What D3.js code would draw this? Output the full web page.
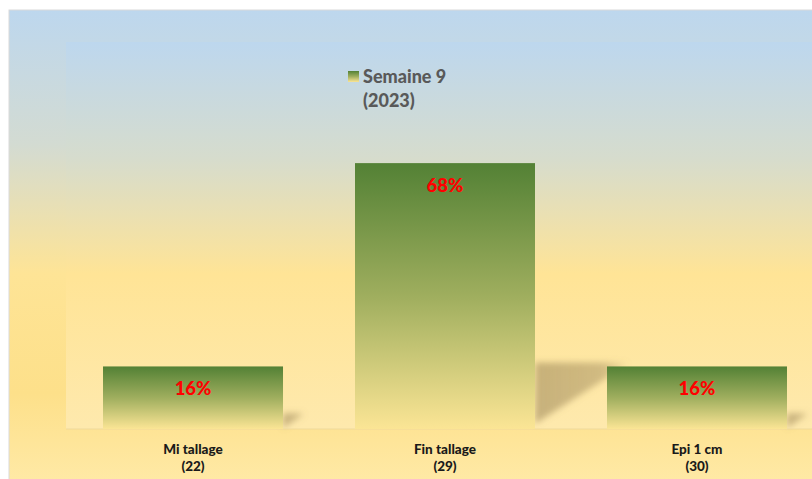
<!DOCTYPE html>
<html>
<head>
<meta charset="utf-8">
<script src="https://cdn.jsdelivr.net/npm/d3@7"></script>
<style>
  body { margin: 0; background: #fff; }
  text { font-family: Lato, "Open Sans", sans-serif; font-weight: 900; }
</style>
</head>
<body>
<div id="chart"></div>
<script>
// data
var categories = ["Mi tallage", "Fin tallage", "Epi 1 cm"];
var stageCodes = ["(22)", "(29)", "(30)"];
var values = [16, 68, 16];
var seriesName = ["Semaine 9", "(2023)"];

var svgWidth = 812, svgHeight = 479;

var svg = d3.select("#chart")
    .append("svg")
    .attr("width", svgWidth)
    .attr("height", svgHeight);

var defs = svg.append("defs");

// outer background gradient
var bgGrad = defs.append("linearGradient").attr("id", "bgGrad")
    .attr("x1", 0).attr("y1", 0).attr("x2", 0).attr("y2", 1);
[[0, "#bdd7ee"], [0.28, "#d3dbd2"], [0.55, "#fee496"], [0.8, "#fde08a"], [1, "#ffeaa8"]]
    .forEach(s => bgGrad.append("stop").attr("offset", s[0]).attr("stop-color", s[1]));

// plot area gradient
var plotGrad = defs.append("linearGradient").attr("id", "plotGrad")
    .attr("x1", 0).attr("y1", 0).attr("x2", 0).attr("y2", 1);
[[0, "#bdd7ee"], [0.3, "#d6dccd"], [0.6, "#ffe496"], [1, "#fee9ad"]]
    .forEach(s => plotGrad.append("stop").attr("offset", s[0]).attr("stop-color", s[1]));

// bar gradient
var barGrad = defs.append("linearGradient").attr("id", "barGrad")
    .attr("x1", 0).attr("y1", 0).attr("x2", 0).attr("y2", 1);
[[0, "#538135"], [0.5, "#9fae5e"], [1, "#fbe595"]]
    .forEach(s => barGrad.append("stop").attr("offset", s[0]).attr("stop-color", s[1]));

// shadow blur
defs.append("filter").attr("id", "blur")
    .attr("x", "-50%").attr("y", "-50%").attr("width", "200%").attr("height", "200%")
    .append("feGaussianBlur").attr("stdDeviation", 3);

var shadowGrad = defs.append("linearGradient").attr("id", "shadowGrad")
    .attr("x1", 0).attr("y1", 0).attr("x2", 1).attr("y2", 0);
shadowGrad.append("stop").attr("offset", 0).attr("stop-color", "#9a8455").attr("stop-opacity", 0.55);
shadowGrad.append("stop").attr("offset", 0.7).attr("stop-color", "#9a8455").attr("stop-opacity", 0.45);
shadowGrad.append("stop").attr("offset", 1).attr("stop-color", "#9a8455").attr("stop-opacity", 0);

// chart area
svg.append("rect")
    .attr("x", 9).attr("y", 10)
    .attr("width", svgWidth).attr("height", svgHeight)
    .attr("fill", "url(#bgGrad)")
    .attr("stroke", "#d9d9d9");

var plot = { left: 66, top: 42, right: 830, bottom: 429 };

svg.append("rect")
    .attr("x", plot.left).attr("y", plot.top)
    .attr("width", plot.right - plot.left).attr("height", plot.bottom - plot.top)
    .attr("fill", "url(#plotGrad)");

// scales
var x = d3.scaleBand()
    .domain(categories)
    .range([67, 823])
    .paddingInner(0.2857)
    .paddingOuter(0.1429);

var y = d3.scaleLinear()
    .domain([0, 100])
    .range([plot.bottom, 38]);

var rows = categories.map((c, i) => ({ cat: c, code: stageCodes[i], v: values[i] }));

// perspective shadows
svg.append("g").selectAll("polygon")
    .data(rows)
    .enter()
    .append("polygon")
    .attr("points", d => {
        var x1 = x(d.cat) + x.bandwidth();
        var h = plot.bottom - y(d.v);
        var top = plot.bottom - 0.25 * h;
        return [[x1, top], [x1 + 0.36 * h, top], [x1, plot.bottom - 0.02 * h]]
            .map(p => p.join(",")).join(" ");
    })
    .attr("fill", "url(#shadowGrad)")
    .attr("filter", "url(#blur)");

// axis line
svg.append("line")
    .attr("x1", plot.left).attr("x2", plot.right)
    .attr("y1", plot.bottom).attr("y2", plot.bottom)
    .attr("stroke", "#efd89a");

// bars
svg.append("g").selectAll("rect")
    .data(rows)
    .enter()
    .append("rect")
    .attr("x", d => x(d.cat))
    .attr("y", d => y(d.v))
    .attr("width", x.bandwidth())
    .attr("height", d => plot.bottom - y(d.v))
    .attr("fill", "url(#barGrad)");

// value labels
svg.append("g").selectAll("text")
    .data(rows)
    .enter()
    .append("text")
    .attr("x", d => x(d.cat) + x.bandwidth() / 2)
    .attr("y", d => y(d.v) + 29)
    .attr("text-anchor", "middle")
    .attr("fill", "#ff0000")
    .style("font-size", "18.5px")
    .text(d => d.v + "%");

// category labels
var catLabels = svg.append("g").selectAll("text")
    .data(rows)
    .enter()
    .append("text")
    .attr("x", d => x(d.cat) + x.bandwidth() / 2)
    .attr("y", 454)
    .attr("text-anchor", "middle")
    .attr("fill", "#1a1a1a")
    .style("font-size", "13.5px");
catLabels.append("tspan").text(d => d.cat);
catLabels.append("tspan")
    .attr("x", d => x(d.cat) + x.bandwidth() / 2)
    .attr("dy", 17)
    .text(d => d.code);

// legend
svg.append("rect")
    .attr("x", 348).attr("y", 71)
    .attr("width", 11).attr("height", 11)
    .attr("fill", "url(#barGrad)");

svg.append("text")
    .attr("x", 363).attr("y", 83)
    .attr("fill", "#595959")
    .style("font-size", "18px")
    .text(seriesName[0]);

svg.append("text")
    .attr("x", 363).attr("y", 107)
    .attr("fill", "#595959")
    .style("font-size", "18px")
    .text(seriesName[1]);
</script>
</body>
</html>
